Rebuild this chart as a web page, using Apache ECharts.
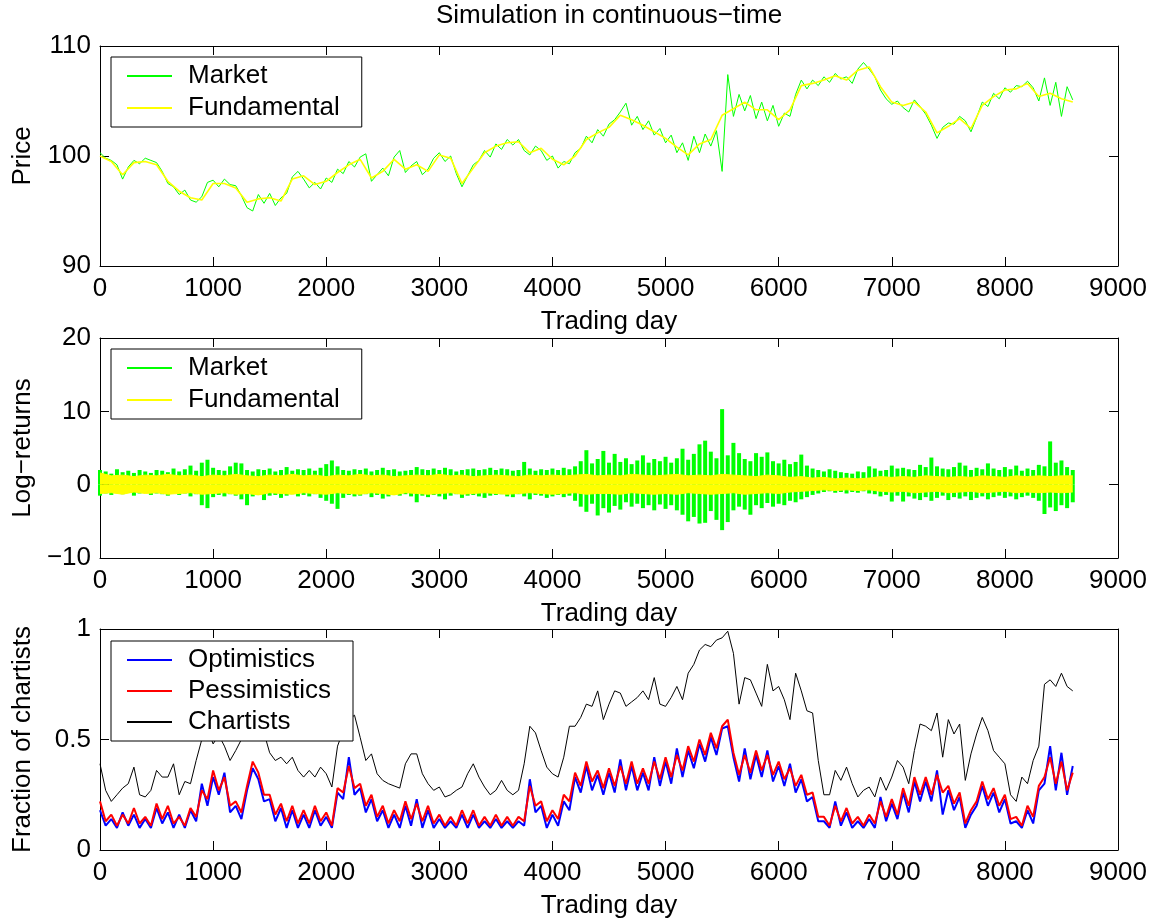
<!DOCTYPE html>
<html>
<head>
<meta charset="utf-8">
<title>Simulation in continuous-time</title>
<script src="https://cdn.jsdelivr.net/npm/echarts@6/dist/echarts.min.js"></script>
<style>
	html, body { margin: 0; padding: 0; background: #fff; }
	#simChart { width: 1160px; height: 923px; }
</style>
</head>
<body>
<div id="simChart"></div>
<script>
// sample spacing (trading days) of the arrays below
const STEP_FINE = 50
const STEP_WIDE = 100

// price, every 50 days
const priceMarket = [
	100.3, 99.8, 99.6, 99.2, 97.9, 99.0, 99.6, 99.3, 99.8, 99.6,
	99.4, 98.6, 97.5, 97.2, 96.5, 96.9, 96.0, 95.8, 96.3, 97.6,
	97.8, 97.2, 97.9, 97.4, 97.3, 96.4, 95.3, 95.0, 96.5, 95.7,
	96.6, 95.5, 96.2, 96.6, 98.1, 98.6, 97.9, 97.1, 97.6, 97.0,
	98.0, 97.6, 98.8, 98.4, 99.5, 99.0, 99.9, 100.2, 97.7, 98.3,
	98.9, 98.2, 99.9, 100.5, 98.5, 99.1, 99.5, 98.3, 98.8, 99.8,
	100.3, 99.5, 100.0, 98.4, 97.2, 98.2, 99.2, 99.6, 100.5, 99.9,
	101.1, 100.6, 101.5, 101.0, 101.5, 100.5, 100.1, 100.9, 100.5, 99.6,
	100.0, 98.9, 99.5, 99.3, 100.3, 100.7, 101.8, 101.2, 102.4, 101.8,
	102.9, 103.3, 104.0, 104.8, 102.8, 103.6, 102.4, 103.2, 101.9, 102.5,
	101.2, 101.9, 100.3, 101.2, 99.6, 101.8, 100.3, 102.0, 100.9, 102.3,
	98.6, 107.4, 103.6, 105.6, 104.1, 105.5, 103.4, 104.9, 103.2, 104.6,
	102.7, 103.9, 103.6, 105.6, 106.9, 106.1, 106.9, 106.4, 107.2, 106.7,
	107.5, 107.0, 107.2, 106.6, 107.9, 108.5, 107.9, 107.2, 106.0, 105.2,
	104.7, 105.0, 104.4, 104.0, 105.1, 104.5, 103.8, 102.8, 101.6, 102.6,
	103.0, 102.9, 103.6, 103.2, 102.2, 103.5, 104.9, 104.5, 105.7, 105.2,
	106.2, 105.8, 106.4, 106.3, 106.8, 106.2, 105.0, 107.1, 104.6, 106.7,
	103.6, 106.3, 105.1,
]

// price, every 100 days
const priceFundamental = [
	100.0, 99.5, 98.3, 99.4, 99.5, 99.2, 97.7, 96.8, 96.2, 96.0,
	97.5, 97.5, 97.1, 95.8, 96.1, 96.2, 95.9, 97.9, 98.2, 97.4,
	97.7, 98.5, 99.2, 99.7, 98.0, 98.6, 99.7, 98.8, 99.2, 98.6,
	100.1, 99.8, 97.5, 98.9, 100.3, 100.9, 101.2, 101.3, 100.3, 100.7,
	99.7, 99.2, 100.0, 101.5, 102.1, 102.6, 103.7, 103.3, 102.8, 102.2,
	101.6, 100.8, 100.1, 101.1, 101.5, 103.7, 104.3, 104.9, 104.2, 104.2,
	103.3, 104.2, 106.4, 106.6, 106.9, 107.3, 106.9, 107.8, 108.1, 106.3,
	104.9, 104.6, 104.9, 104.0, 102.1, 102.7, 103.4, 102.5, 104.6, 105.4,
	106.0, 106.1, 106.6, 105.4, 105.7, 105.2, 104.9,
]

// log-returns of the market, highest and lowest in each 50-day slot
const returnMarketHigh = [
	2.0, 1.8, 1.5, 2.1, 1.7, 1.9, 1.6, 2.0, 1.8, 1.6,
	2.0, 1.9, 1.7, 2.2, 1.8, 2.1, 2.6, 1.9, 3.0, 3.4,
	2.3, 2.0, 1.9, 2.5, 3.0, 2.9, 2.0, 1.8, 2.1, 2.0,
	2.2, 1.8, 2.0, 2.4, 1.9, 2.1, 2.0, 2.2, 1.9, 2.3,
	2.8, 3.3, 2.5, 2.0, 1.9, 2.1, 2.0, 2.2, 1.8, 2.0,
	2.3, 2.0, 2.1, 1.8, 1.9, 2.0, 2.4, 2.1, 2.0, 2.2,
	2.0, 2.3, 2.1, 1.8, 2.0, 2.1, 2.2, 2.0, 2.1, 2.3,
	2.0, 2.2, 2.1, 1.9, 2.0, 3.1, 2.2, 1.9, 2.1, 2.0,
	2.2, 2.0, 2.3, 2.1, 2.5, 3.2, 4.7, 2.9, 3.5, 4.6,
	3.0, 4.2, 3.1, 3.6, 2.8, 3.3, 4.0, 3.0, 3.5, 3.2,
	3.8, 3.0, 3.6, 4.9, 3.4, 4.2, 5.5, 6.0, 4.5, 3.6,
	10.3, 4.0, 5.7, 4.3, 3.5, 3.2, 4.3, 3.8, 4.4, 3.2,
	2.9, 3.4, 2.8, 3.1, 4.1, 2.6, 2.2, 2.0, 1.8, 2.1,
	1.9, 1.7, 1.6, 1.5, 1.8, 1.7, 2.5, 2.2, 1.9, 2.0,
	2.6, 2.2, 2.3, 2.1, 2.0, 2.7, 2.4, 3.7, 2.5, 2.2,
	2.1, 2.4, 3.0, 2.6, 2.0, 2.3, 2.1, 2.9, 2.2, 2.0,
	2.4, 2.1, 2.6, 1.9, 2.2, 2.0, 2.7, 2.5, 5.9, 3.0,
	3.3, 2.4, 2.0,
]
const returnMarketLow = [
	-1.5, -1.2, -1.4, -1.0, -1.3, -1.1, -1.5, -1.2, -1.1, -1.4,
	-1.2, -1.3, -1.5, -1.1, -1.4, -1.2, -1.6, -1.3, -2.8, -3.2,
	-1.7, -1.4, -1.6, -1.3, -1.5, -2.0, -2.8, -1.6, -1.4, -2.1,
	-1.5, -1.4, -1.8, -1.5, -1.3, -1.6, -1.4, -1.6, -1.3, -1.8,
	-2.2, -2.6, -3.3, -1.8, -1.4, -1.6, -1.5, -1.3, -1.7, -1.4,
	-1.9, -1.6, -1.4, -1.5, -1.3, -1.6, -2.4, -1.5, -1.7, -1.4,
	-1.6, -2.0, -1.5, -1.3, -1.8, -1.5, -1.4, -1.6, -1.8, -1.5,
	-1.4, -1.3, -1.6, -1.7, -1.3, -1.6, -2.0, -1.4, -1.5, -1.8,
	-1.6, -1.4, -1.7, -1.5, -2.2, -3.0, -3.7, -2.6, -4.2, -3.2,
	-3.8, -2.9, -3.4, -2.4, -3.0, -2.6, -3.2, -2.8, -3.5, -2.7,
	-3.3, -2.8, -3.5, -4.1, -5.0, -4.4, -5.3, -5.2, -3.6, -4.8,
	-6.2, -5.1, -3.5, -3.0, -3.4, -4.1, -2.8, -3.2, -2.5, -3.0,
	-2.6, -2.8, -2.2, -2.4, -2.0, -1.7, -1.4, -1.2, -1.0, -0.9,
	-1.1, -1.0, -1.2, -1.0, -1.1, -0.9, -1.2, -1.3, -1.6, -1.4,
	-2.3, -1.5, -2.3, -1.6, -1.9, -2.1, -1.7, -2.2, -1.8, -1.5,
	-2.1, -1.7, -1.9, -1.6, -2.1, -1.8, -1.6, -2.0, -1.7, -1.5,
	-1.8, -1.6, -2.0, -1.7, -1.5, -1.8, -2.2, -4.0, -3.1, -3.6,
	-2.8, -3.2, -2.4,
]

// log-returns of the fundamental, highest and lowest in each 100-day slot
const returnFundHigh = [
	1.6, 1.2, 1.3, 1.1, 1.3, 1.2, 1.4, 1.2, 1.3, 1.1,
	1.3, 1.2, 1.4, 1.2, 1.1, 1.3, 1.2, 1.4, 1.2, 1.3,
	1.1, 1.3, 1.2, 1.4, 1.2, 1.3, 1.1, 1.2, 1.3, 1.2,
	1.4, 1.2, 1.3, 1.1, 1.2, 1.3, 1.2, 1.1, 1.3, 1.2,
	1.3, 1.2, 1.3, 1.4, 1.2, 1.3, 1.2, 1.4, 1.3, 1.2,
	1.3, 1.4, 1.2, 1.3, 1.2, 1.4, 1.3, 1.2, 1.1, 1.3,
	1.2, 1.0, 1.1, 0.9, 1.0, 0.8, 0.9, 0.8, 0.9, 1.1,
	1.0, 1.1, 1.0, 1.2, 1.1, 1.0, 1.1, 1.0, 1.2, 1.1,
	1.0, 1.2, 1.1, 1.2, 1.1, 1.2, 1.2,
]
const returnFundLow = [
	-1.2, -1.1, -1.3, -1.0, -1.2, -1.1, -1.3, -1.2, -1.1, -1.3,
	-1.2, -1.1, -1.3, -1.2, -1.4, -1.1, -1.2, -1.3, -1.1, -1.2,
	-1.3, -1.1, -1.2, -1.3, -1.1, -1.2, -1.4, -1.1, -1.2, -1.3,
	-1.2, -1.1, -1.3, -1.2, -1.1, -1.2, -1.3, -1.2, -1.1, -1.2,
	-1.3, -1.2, -1.1, -1.3, -1.2, -1.2, -1.3, -1.1, -1.2, -1.3,
	-1.2, -1.3, -1.1, -1.2, -1.3, -1.2, -1.1, -1.3, -1.2, -1.1,
	-1.2, -1.0, -0.9, -0.8, -0.7, -0.8, -0.7, -0.8, -0.7, -0.9,
	-1.0, -0.9, -1.1, -1.0, -0.9, -1.1, -1.0, -0.9, -1.1, -1.0,
	-0.9, -1.1, -1.0, -1.1, -1.0, -1.1, -1.0,
]

// fractions, every 50 days
const optimistics = [
	0.18, 0.11, 0.14, 0.10, 0.17, 0.11, 0.16, 0.10, 0.14, 0.10,
	0.19, 0.12, 0.17, 0.10, 0.16, 0.10, 0.18, 0.13, 0.30, 0.20,
	0.33, 0.25, 0.35, 0.17, 0.20, 0.14, 0.27, 0.37, 0.32, 0.22,
	0.23, 0.13, 0.19, 0.10, 0.18, 0.10, 0.16, 0.10, 0.18, 0.11,
	0.15, 0.10, 0.26, 0.23, 0.42, 0.25, 0.28, 0.17, 0.23, 0.13,
	0.18, 0.10, 0.16, 0.10, 0.20, 0.11, 0.23, 0.10, 0.18, 0.10,
	0.14, 0.10, 0.13, 0.10, 0.16, 0.10, 0.16, 0.10, 0.13, 0.10,
	0.14, 0.10, 0.13, 0.10, 0.13, 0.11, 0.32, 0.17, 0.20, 0.10,
	0.16, 0.11, 0.22, 0.18, 0.33, 0.26, 0.38, 0.27, 0.34, 0.25,
	0.35, 0.26, 0.41, 0.27, 0.38, 0.27, 0.35, 0.27, 0.42, 0.29,
	0.40, 0.30, 0.46, 0.33, 0.45, 0.37, 0.48, 0.40, 0.51, 0.43,
	0.55, 0.56, 0.42, 0.31, 0.46, 0.32, 0.43, 0.33, 0.45, 0.31,
	0.38, 0.29, 0.39, 0.26, 0.32, 0.22, 0.24, 0.13, 0.13, 0.10,
	0.22, 0.11, 0.17, 0.10, 0.13, 0.10, 0.14, 0.10, 0.24, 0.13,
	0.21, 0.14, 0.26, 0.17, 0.31, 0.22, 0.31, 0.22, 0.36, 0.16,
	0.27, 0.18, 0.24, 0.10, 0.16, 0.20, 0.29, 0.20, 0.26, 0.17,
	0.23, 0.12, 0.13, 0.10, 0.18, 0.12, 0.27, 0.30, 0.47, 0.27,
	0.44, 0.25, 0.38,
]
const pessimistics = [
	0.22, 0.13, 0.16, 0.11, 0.16, 0.12, 0.19, 0.12, 0.15, 0.11,
	0.21, 0.14, 0.20, 0.12, 0.15, 0.11, 0.19, 0.15, 0.27, 0.23,
	0.36, 0.27, 0.33, 0.20, 0.22, 0.17, 0.29, 0.40, 0.35, 0.25,
	0.25, 0.16, 0.21, 0.13, 0.20, 0.12, 0.18, 0.12, 0.20, 0.13,
	0.17, 0.11, 0.28, 0.26, 0.38, 0.28, 0.30, 0.20, 0.25, 0.15,
	0.20, 0.12, 0.18, 0.13, 0.22, 0.14, 0.21, 0.13, 0.20, 0.12,
	0.16, 0.11, 0.15, 0.11, 0.18, 0.12, 0.18, 0.11, 0.15, 0.11,
	0.16, 0.11, 0.15, 0.11, 0.15, 0.13, 0.29, 0.20, 0.22, 0.13,
	0.18, 0.14, 0.25, 0.22, 0.35, 0.29, 0.40, 0.31, 0.36, 0.28,
	0.37, 0.29, 0.38, 0.30, 0.40, 0.30, 0.37, 0.30, 0.40, 0.32,
	0.42, 0.33, 0.43, 0.36, 0.47, 0.40, 0.50, 0.43, 0.53, 0.46,
	0.56, 0.59, 0.44, 0.34, 0.43, 0.35, 0.45, 0.36, 0.43, 0.34,
	0.40, 0.32, 0.37, 0.29, 0.34, 0.25, 0.26, 0.15, 0.15, 0.11,
	0.20, 0.13, 0.19, 0.12, 0.15, 0.11, 0.16, 0.12, 0.22, 0.15,
	0.23, 0.16, 0.28, 0.20, 0.33, 0.25, 0.33, 0.25, 0.34, 0.26,
	0.29, 0.21, 0.26, 0.12, 0.18, 0.22, 0.31, 0.23, 0.28, 0.20,
	0.25, 0.14, 0.15, 0.11, 0.20, 0.15, 0.29, 0.33, 0.42, 0.30,
	0.40, 0.27, 0.35,
]
const chartists = [
	0.39, 0.27, 0.22, 0.25, 0.28, 0.30, 0.375, 0.25, 0.24, 0.27,
	0.36, 0.33, 0.33, 0.39, 0.25, 0.31, 0.30, 0.405, 0.50, 0.55,
	0.48, 0.52, 0.47, 0.405, 0.45, 0.50, 0.56, 0.55, 0.50, 0.53,
	0.44, 0.405, 0.42, 0.39, 0.42, 0.36, 0.33, 0.36, 0.33, 0.375,
	0.345, 0.285, 0.47, 0.54, 0.59, 0.61, 0.51, 0.405, 0.435, 0.345,
	0.315, 0.30, 0.29, 0.28, 0.39, 0.435, 0.435, 0.345, 0.30, 0.27,
	0.285, 0.24, 0.25, 0.27, 0.285, 0.345, 0.39, 0.33, 0.285, 0.25,
	0.27, 0.315, 0.27, 0.25, 0.27, 0.39, 0.56, 0.53, 0.45, 0.375,
	0.345, 0.33, 0.42, 0.56, 0.56, 0.60, 0.66, 0.65, 0.72, 0.59,
	0.66, 0.72, 0.71, 0.65, 0.67, 0.69, 0.72, 0.68, 0.78, 0.66,
	0.65, 0.69, 0.74, 0.68, 0.80, 0.84, 0.905, 0.93, 0.92, 0.95,
	0.96, 0.99, 0.89, 0.66, 0.78, 0.77, 0.71, 0.65, 0.84, 0.72,
	0.74, 0.68, 0.59, 0.80, 0.72, 0.63, 0.62, 0.405, 0.25, 0.25,
	0.36, 0.315, 0.375, 0.30, 0.24, 0.27, 0.285, 0.24, 0.33, 0.27,
	0.33, 0.405, 0.375, 0.30, 0.45, 0.57, 0.56, 0.54, 0.62, 0.42,
	0.59, 0.525, 0.57, 0.315, 0.435, 0.525, 0.60, 0.54, 0.45, 0.42,
	0.39, 0.25, 0.22, 0.33, 0.30, 0.405, 0.47, 0.75, 0.77, 0.74,
	0.80, 0.74, 0.72,
]

const FONT = "'Liberation Sans', Arial, Helvetica, sans-serif"
const textStyle = (size = 26) => ({
	color: '#000',
	fontSize: size,
	fontFamily: FONT,
	fontWeight: 'normal',
})
const withDays = (values, step) => values.map((v, i) => [i * step, v])
// plain numbers, real minus sign, no thousands separator
const plainLabel = (v) => String(v).replace('-', '\u2212')

const axisLine = { show: true, onZero: false, lineStyle: { color: '#000', width: 1 } }
const axisTick = { show: true, inside: true, length: 9, lineStyle: { color: '#000', width: 1 } }

const xAxisPair = (gi) => [
	{
		type: 'value', gridIndex: gi, position: 'bottom',
		min: 0, max: 9000, interval: 1000,
		name: 'Trading day', nameLocation: 'middle', nameGap: 43,
		nameTextStyle: textStyle(),
		axisLine, axisTick,
		axisLabel: { ...textStyle(), margin: 10, formatter: plainLabel },
		splitLine: { show: false },
	},
	{
		type: 'value', gridIndex: gi, position: 'top',
		min: 0, max: 9000, interval: 1000,
		axisLine, axisTick,
		axisLabel: { show: false },
		splitLine: { show: false },
	},
]

const yAxisPair = (gi, name, min, max, interval) => [
	{
		type: 'value', gridIndex: gi, position: 'left',
		min, max, interval,
		name, nameLocation: 'middle', nameGap: 64,
		nameTextStyle: textStyle(),
		axisLine, axisTick,
		axisLabel: { ...textStyle(), margin: 9, formatter: plainLabel },
		splitLine: { show: false },
	},
	{
		type: 'value', gridIndex: gi, position: 'right',
		min, max, interval,
		axisLine, axisTick,
		axisLabel: { show: false },
		splitLine: { show: false },
	},
]

const legendBox = (top, names, gap) => ({
	orient: 'vertical',
	left: 111,
	top,
	data: names,
	icon: 'rect',
	itemWidth: 45,
	itemHeight: 2,
	itemGap: gap,
	padding: [6, 22, 6, 16],
	borderColor: '#000',
	borderWidth: 1,
	backgroundColor: '#fff',
	selectedMode: false,
	textStyle: { ...textStyle(), padding: [0, 0, 0, 11] },
})

const lineSeries = (name, color, data, xi, width = 1) => ({
	name,
	type: 'line',
	xAxisIndex: xi,
	yAxisIndex: xi,
	data,
	showSymbol: false,
	symbol: 'none',
	silent: true,
	itemStyle: { color },
	lineStyle: { color, width },
})

const returnBars = (data) => ({
	name: 'Market',
	type: 'bar',
	xAxisIndex: 2,
	yAxisIndex: 2,
	stack: 'mkt',
	barWidth: 4,
	silent: true,
	itemStyle: { color: '#00ff00' },
	data,
})

const simChart = echarts.init(document.getElementById('simChart'), null, { renderer: 'canvas' })

simChart.setOption({
	animation: false,
	backgroundColor: '#fff',
	title: {
		text: 'Simulation in continuous\u2212time',
		left: 436,
		top: 3,
		padding: 0,
		textStyle: textStyle(),
	},
	grid: [
		{ left: 100, right: 42, top: 46, height: 220, outerBoundsMode: 'none' },
		{ left: 100, right: 42, top: 338, height: 220, outerBoundsMode: 'none' },
		{ left: 100, right: 42, top: 629, height: 221, outerBoundsMode: 'none' },
	],
	xAxis: [...xAxisPair(0), ...xAxisPair(1), ...xAxisPair(2)],
	yAxis: [
		...yAxisPair(0, 'Price', 90, 110, 10),
		...yAxisPair(1, 'Log\u2212returns', -10, 20, 10),
		...yAxisPair(2, 'Fraction of chartists', 0, 1, 0.5),
	],
	legend: [
		legendBox(57, ['Market', 'Fundamental'], 6),
		legendBox(349, ['Market', 'Fundamental'], 6),
		legendBox(641, ['Optimistics', 'Pessimistics', 'Chartists'], 5),
	],
	series: [
		// price panel
		lineSeries('Market', '#00ff00', withDays(priceMarket, STEP_FINE), 0),
		lineSeries('Fundamental', '#ffff00', withDays(priceFundamental, STEP_WIDE), 0, 1.6),

		// log-returns panel: market spikes up and down
		returnBars(withDays(returnMarketHigh, STEP_FINE)),
		returnBars(withDays(returnMarketLow, STEP_FINE)),
		// fundamental band
		{
			...lineSeries('Fundamental', '#ffff00', withDays(returnFundHigh, STEP_WIDE), 2),
			areaStyle: { color: '#ffff00', opacity: 1, origin: 'auto' },
		},
		{
			...lineSeries('Fundamental', '#ffff00', withDays(returnFundLow, STEP_WIDE), 2),
			areaStyle: { color: '#ffff00', opacity: 1, origin: 'auto' },
		},

		// fractions panel
		lineSeries('Optimistics', '#0000ff', withDays(optimistics, STEP_FINE), 4, 2),
		lineSeries('Pessimistics', '#ff0000', withDays(pessimistics, STEP_FINE), 4, 2),
		lineSeries('Chartists', '#000000', withDays(chartists, STEP_FINE), 4, 1),
	],
})

window.addEventListener('resize', () => {
	simChart && simChart.resize()
})
</script>
</body>
</html>
